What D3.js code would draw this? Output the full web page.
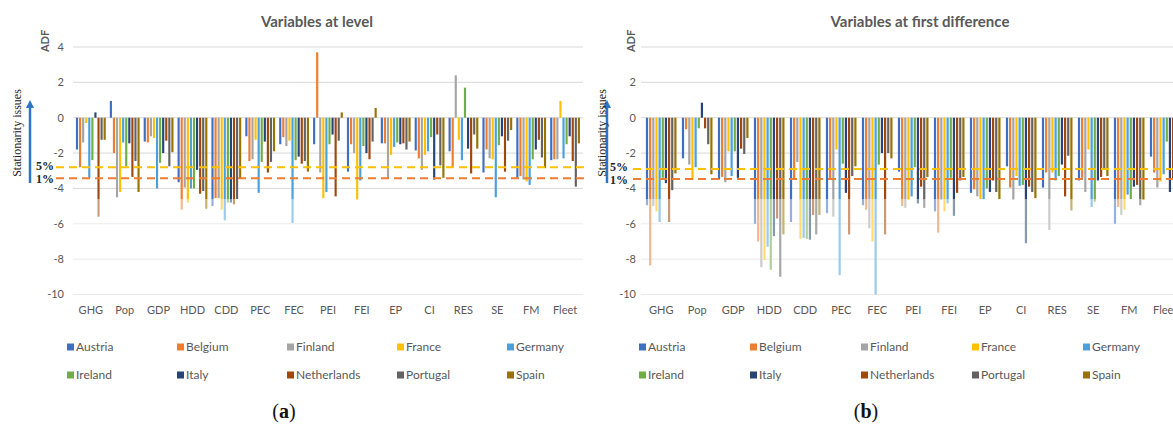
<!DOCTYPE html>
<html>
<head>
<meta charset="utf-8">
<script src="https://cdn.jsdelivr.net/npm/d3@7"></script>
<style>
  body { margin: 0; background: #fff; }
  text { font-family: Lato, "Open Sans", sans-serif; }
</style>
</head>
<body>
<div id="chart"></div>
<script>
const categories = ["GHG", "Pop", "GDP", "HDD", "CDD", "PEC", "FEC", "PEI", "FEI", "EP", "CI", "RES", "SE", "FM", "Fleet"];
const countries = ["Austria", "Belgium", "Finland", "France", "Germany", "Ireland", "Italy", "Netherlands", "Portugal", "Spain"];
const colors = ["#3f6fc2", "#ed7d31", "#a5a5a5", "#ffc000", "#4a9fdc", "#70ad47", "#264478", "#9e480e", "#636363", "#997300"];
const yTicks = [-10, -8, -6, -4, -2, 0, 2, 4];

// ADF statistics, variables at level (one array per country, in category order)
const levelAustria     = [-1.8, 0.95, -1.35, -3.65, -5.0, -1.05, -1.5, -1.5, -3.05, -1.45, -1.85, -1.9, -3.1, -3.4, -2.4];
const levelBelgium     = [-2.8, -2.0, -1.4, -5.2, -4.55, -2.45, -1.1, 3.7, -1.5, -1.45, -2.3, -2.8, -1.8, -3.3, -2.35];
const levelFinland     = [-1.4, -4.5, -1.05, -3.95, -4.55, -2.35, -1.6, -3.1, -2.0, -3.45, -2.95, 2.4, -2.3, -3.5, -2.35];
const levelFrance      = [-0.3, -4.2, -1.15, -4.8, -5.2, -1.25, -1.3, -4.55, -4.65, -2.1, -2.1, -1.25, -2.35, -3.6, 0.95];
const levelGermany     = [-3.4, -1.4, -4.0, -4.0, -5.8, -4.25, -5.95, -4.2, -3.55, -1.65, -1.9, -2.4, -4.5, -3.8, -2.3];
const levelIreland     = [-2.4, -2.75, -2.55, -4.0, -4.8, -2.5, -2.4, -1.5, -1.6, -1.4, -1.1, 1.7, -1.55, -2.35, -1.5];
const levelItaly       = [0.3, -1.45, -2.0, -2.95, -4.8, -1.35, -2.2, -0.95, -2.0, -1.5, -3.5, -1.75, -1.05, -1.8, -1.05];
const levelNetherlands = [-5.6, -3.35, -1.3, -4.3, -4.9, -3.1, -2.6, -4.45, -2.35, -1.45, -0.95, -3.15, -3.05, -1.25, -2.45];
const levelPortugal    = [-1.25, -2.45, -2.75, -4.15, -4.6, -2.5, -2.45, -1.3, -1.35, -1.8, -2.7, -0.95, -1.3, -2.25, -3.9];
const levelSpain       = [-1.25, -4.2, -1.95, -5.15, -3.45, -1.9, -3.05, 0.3, 0.55, -1.35, -3.4, -1.75, -0.7, -2.85, -1.45];

// ADF statistics, variables at first difference
const diffAustria     = [-4.95, -2.3, -3.5, -6.0, -5.9, -5.4, -4.95, -3.05, -5.3, -4.25, -2.75, -3.95, -3.55, -6.0, -2.2];
const diffBelgium     = [-8.35, -0.65, -3.35, -7.0, -3.45, -3.5, -5.2, -5.0, -6.5, -4.05, -3.95, -3.1, -3.4, -5.05, -3.1];
const diffFinland     = [-5.0, -2.65, -3.65, -8.45, -2.5, -5.6, -6.25, -5.1, -4.65, -4.45, -4.65, -6.35, -4.2, -5.5, -3.95];
const diffFrance      = [-5.3, -3.5, -1.9, -8.05, -6.85, -1.8, -7.0, -4.65, -5.3, -4.6, -3.3, -3.1, -1.8, -5.2, -3.6];
const diffGermany     = [-5.9, -2.8, -3.3, -7.3, -6.8, -8.9, -10.0, -4.45, -4.85, -4.6, -3.85, -3.55, -5.05, -4.35, -3.2];
const diffIreland     = [-3.4, -0.6, -1.9, -8.6, -6.85, -2.6, -2.65, -2.8, -3.4, -4.0, -3.8, -3.3, -4.75, -4.6, -1.35];
const diffItaly       = [-3.7, 0.85, -3.4, -6.7, -6.9, -4.25, -2.0, -4.85, -5.55, -4.2, -7.1, -2.65, -3.55, -3.9, -4.2];
const diffNetherlands = [-5.9, -0.6, -1.75, -5.7, -5.5, -6.6, -6.6, -3.9, -4.25, -3.55, -3.9, -4.45, -3.35, -3.8, -3.5];
const diffPortugal    = [-4.1, -1.5, -2.05, -9.0, -6.6, -3.3, -2.0, -5.1, -3.55, -4.2, -4.2, -2.15, -2.95, -4.95, -3.0];
const diffSpain       = [-3.15, -3.2, -1.15, -6.6, -5.5, -2.75, -2.3, -3.35, -3.35, -4.6, -4.55, -5.25, -3.3, -4.65, -2.5];

// critical values drawn as dashed lines
const levelCritical = [-2.8, -3.43];
const diffCritical = [-2.9, -3.47];
const criticalLabels = ["5%", "1%"];
const criticalColors = ["#ffc000", "#ed7d31"];

const levelSeries = [levelAustria, levelBelgium, levelFinland, levelFrance, levelGermany, levelIreland, levelItaly, levelNetherlands, levelPortugal, levelSpain];
const diffSeries = [diffAustria, diffBelgium, diffFinland, diffFrance, diffGermany, diffIreland, diffItaly, diffNetherlands, diffPortugal, diffSpain];

const svg = d3.select("#chart").append("svg")
    .attr("width", 1173)
    .attr("height", 427);

svg.append("defs").append("marker")
    .attr("id", "arrow")
    .attr("viewBox", "0 0 10 10")
    .attr("refX", 5).attr("refY", 5)
    .attr("markerWidth", 3.2).attr("markerHeight", 3.2)
    .attr("orient", "auto")
    .append("path")
    .attr("d", "M0,0 L10,5 L0,10 z")
    .attr("fill", "#2e75c6");

const y = d3.scaleLinear().domain([-10, 4]).range([294.5, 47]);

function drawPanel(p) {
    const g = svg.append("g");

    const x = d3.scaleBand().domain(categories).range([p.x0, p.x1])
        .paddingInner(p.pad).paddingOuter(p.pad / 2);
    const xs = d3.scaleBand().domain(countries).range([0, x.bandwidth()]).paddingInner(0.3);

    // gridlines
    g.selectAll(".grid").data(yTicks).join("line")
        .attr("x1", p.gridX0).attr("x2", p.gridX1)
        .attr("y1", d => y(d)).attr("y2", d => y(d))
        .attr("stroke", "#d9d9d9").attr("stroke-width", 1);

    // tick labels
    g.selectAll(".tick").data(yTicks.filter(d => p.showTop || d < 4)).join("text")
        .attr("x", p.tickX).attr("y", d => y(d))
        .attr("dy", "0.35em")
        .attr("text-anchor", "end")
        .attr("font-size", 11)
        .attr("fill", "#595959")
        .text(d => d);

    // bars
    p.series.forEach((vals, ci) => {
        g.append("g").selectAll("rect").data(vals).join("rect")
            .attr("x", (d, i) => x(categories[i]) + xs(countries[ci]))
            .attr("width", xs.bandwidth())
            .attr("y", d => y(Math.max(0, d)))
            .attr("height", d => Math.abs(y(d) - y(0)))
            .attr("fill", colors[ci]);
    });

    // the washed out lower part of the original picture
    g.append("rect")
        .attr("x", p.gridX0).attr("width", p.gridX1 - p.gridX0)
        .attr("y", y(-4.6)).attr("height", y(-10.2) - y(-4.6))
        .attr("fill", "#fff").attr("opacity", 0.45);

    // category labels
    g.selectAll(".cat").data(categories).join("text")
        .attr("x", d => x(d) + x.bandwidth() / 2)
        .attr("y", 314)
        .attr("text-anchor", "middle")
        .attr("font-size", 11)
        .attr("fill", "#595959")
        .text(d => d);

    // critical value lines
    p.critical.forEach((c, i) => {
        g.append("line")
            .attr("x1", p.critX0).attr("x2", p.gridX1 + 6)
            .attr("y1", y(c)).attr("y2", y(c))
            .attr("stroke", criticalColors[i])
            .attr("stroke-width", 2)
            .attr("stroke-dasharray", "8,5");
        g.append("text")
            .attr("x", p.critLabelX).attr("y", y(c) + (i === 0 ? -1.5 : 0.5))
            .attr("dy", "0.33em")
            .attr("font-size", 12)
            .attr("font-weight", "bold")
            .attr("fill", "#222")
            .style("font-family", "'Liberation Serif', serif")
            .text(criticalLabels[i]);
    });

    // stationarity arrow
    g.append("line")
        .attr("x1", p.arrowX).attr("x2", p.arrowX)
        .attr("y1", 183).attr("y2", 104)
        .attr("stroke", "#2e75c6").attr("stroke-width", 2.5)
        .attr("marker-end", "url(#arrow)");
    g.append("text")
        .attr("transform", `translate(${p.textX},133) rotate(-90)`)
        .attr("text-anchor", "middle")
        .attr("dy", "0.35em")
        .attr("font-size", 12)
        .attr("fill", "#222")
        .style("font-family", "'Liberation Serif', serif")
        .text("Stationarity issues");

    // titles
    g.append("text")
        .attr("x", p.titleX).attr("y", 27)
        .attr("text-anchor", "middle")
        .attr("font-size", 15)
        .attr("font-weight", "bold")
        .attr("fill", "#595959")
        .text(p.title);
    g.append("text")
        .attr("transform", `translate(${p.adfX},41) rotate(-90)`)
        .attr("text-anchor", "middle")
        .attr("dy", "0.35em")
        .attr("font-size", 11)
        .attr("font-weight", "bold")
        .attr("fill", "#595959")
        .text("ADF");

    // legend
    const leg = g.selectAll(".leg").data(countries).join("g")
        .attr("transform", (d, i) => `translate(${p.legX + (i % 5) * p.legStep},${i < 5 ? 347 : 375})`);
    leg.append("rect")
        .attr("x", 0).attr("y", -3.5)
        .attr("width", 7).attr("height", 7)
        .attr("fill", (d, i) => colors[i]);
    leg.append("text")
        .attr("x", 9).attr("dy", "0.35em")
        .attr("font-size", 12)
        .attr("fill", "#595959")
        .text(d => d);

    // caption
    const cap = g.append("text")
        .attr("x", p.capX).attr("y", 418)
        .attr("text-anchor", "middle")
        .attr("font-size", 20)
        .attr("fill", "#111")
        .style("font-family", "'Liberation Serif', serif");
    cap.append("tspan").text("(");
    cap.append("tspan").attr("font-weight", "bold").text(p.cap);
    cap.append("tspan").text(")");
}

drawPanel({
    series: levelSeries, critical: levelCritical, title: "Variables at level",
    x0: 73.9, x1: 582, pad: 0.12, gridX0: 73, gridX1: 583, tickX: 64,
    critX0: 56, critLabelX: 36, arrowX: 30, textX: 17,
    titleX: 317, adfX: 45, legX: 67, legStep: 110, capX: 284, cap: "a", showTop: true
});

drawPanel({
    series: diffSeries, critical: diffCritical, title: "Variables at first difference",
    x0: 643.2, x1: 1183.2, pad: 0.15, gridX0: 641, gridX1: 1173, tickX: 636,
    critX0: 633, critLabelX: 610, arrowX: 607, textX: 602,
    titleX: 920, adfX: 631, legX: 639, legStep: 111, capX: 866, cap: "b", showTop: false
});
</script>
</body>
</html>
